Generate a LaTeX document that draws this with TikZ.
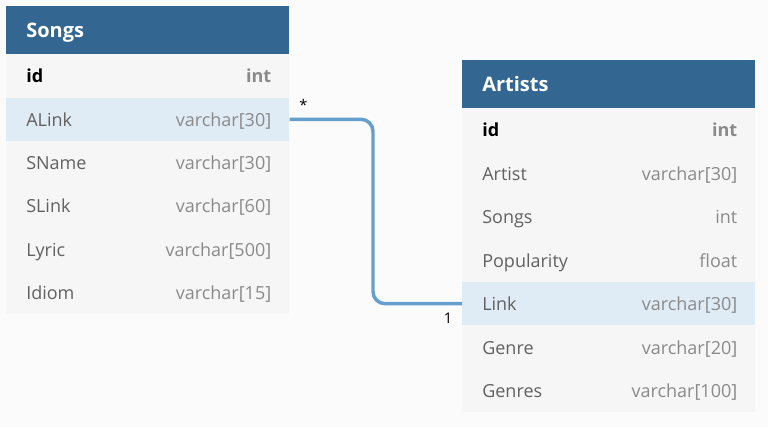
\documentclass[tikz,border=0pt]{standalone}
\usepackage{fontspec}
\setmainfont{Open Sans}
\usetikzlibrary{positioning}

\definecolor{canvas}{HTML}{FBFBFB}
\definecolor{headblue}{HTML}{336791}
\definecolor{rowgray}{HTML}{F6F6F6}
\definecolor{rowlink}{HTML}{DFEBF5}
\definecolor{linkblue}{HTML}{659FCE}
\definecolor{fieldgray}{HTML}{616161}
\definecolor{typegray}{HTML}{8A8A8A}

\tikzset{
  tablehead/.style={fill=headblue, minimum height=36pt, inner sep=0pt, anchor=north west},
  headtext/.style={text=white, font=\fontsize{15}{18}\selectfont\bfseries, inner sep=0pt, anchor=base west},
  tablerow/.style={minimum height=32.55pt, inner sep=0pt, anchor=north west},
  plainrow/.style={tablerow, fill=rowgray},
  linkrow/.style={tablerow, fill=rowlink},
  fieldtext/.style={text=fieldgray, font=\fontsize{13.5}{16}\selectfont, inner sep=0pt, anchor=base west},
  typetext/.style={text=typegray, font=\fontsize{13.5}{16}\selectfont, inner sep=0pt, anchor=base east},
  keyfield/.style={fieldtext, text=black, font=\fontsize{13.5}{16}\selectfont\bfseries},
  keytype/.style={typetext, font=\fontsize{13.5}{16}\selectfont\bfseries},
  reltext/.style={text=black, font=\fontsize{11}{13}\selectfont, inner sep=0pt},
  relation/.style={draw=linkblue, line width=2.6pt, rounded corners=9pt}
}

\begin{document}
\begin{tikzpicture}[x=0.75pt,y=-0.75pt]
  \fill[canvas] (0,0) rectangle (768,427);

  % Songs table
  \node[tablehead, minimum width=212.25pt] (songs) at (6,6) {};
  \node[headtext] (songs-title) at ([shift={(20,7.5)}]songs.west) {Songs};
  \node[plainrow, minimum width=212.25pt] (songs-id) at (6,54) {};
  \node[keyfield] (songs-id-f) at ([shift={(20,7)}]songs-id.west) {id};
  \node[keytype] (songs-id-t) at ([shift={(-18,7)}]songs-id.east) {int};
  \foreach \rowname/\field/\type/\kind [count=\i] in {
      alink/ALink/varchar[30]/linkrow,
      sname/SName/varchar[30]/plainrow,
      slink/SLink/varchar[60]/plainrow,
      lyric/Lyric/varchar[500]/plainrow,
      idiom/Idiom/varchar[15]/plainrow}{
    \node[\kind, minimum width=212.25pt] (songs-\rowname) at (6,{54+43.33*\i}) {};
    \node[fieldtext] (songs-\rowname-f) at ([shift={(20,7)}]songs-\rowname.west) {\field};
    \node[typetext] (songs-\rowname-t) at ([shift={(-18,7)}]songs-\rowname.east) {\type};
  }

  % Artists table
  \node[tablehead, minimum width=219.75pt] (artists) at (462,60) {};
  \node[headtext] (artists-title) at ([shift={(20,7)}]artists.west) {Artists};
  \node[plainrow, minimum width=219.75pt] (artists-id) at (462,108) {};
  \node[keyfield] (artists-id-f) at ([shift={(20,7)}]artists-id.west) {id};
  \node[keytype] (artists-id-t) at ([shift={(-18,7)}]artists-id.east) {int};
  \foreach \rowname/\field/\type/\kind [count=\i] in {
      artist/Artist/varchar[30]/plainrow,
      songs/Songs/int/plainrow,
      popularity/Popularity/float/plainrow,
      link/Link/varchar[30]/linkrow,
      genre/Genre/varchar[20]/plainrow,
      genres/Genres/varchar[100]/plainrow}{
    \node[\kind, minimum width=219.75pt] (artists-\rowname) at (462,{108+43.43*\i}) {};
    \node[fieldtext] (artists-\rowname-f) at ([shift={(20,7)}]artists-\rowname.west) {\field};
    \node[typetext] (artists-\rowname-t) at ([shift={(-18,7)}]artists-\rowname.east) {\type};
  }

  % relation
  \coordinate (elbow) at (373,210);
  \draw[relation] (songs-alink.east) -| (elbow) |- (artists-link.west);
  \node[reltext] (many) at ([shift={(14,-14)}]songs-alink.east) {*};
  \node[reltext] (one) at ([shift={(-14,15)}]artists-link.west) {1};
\end{tikzpicture}
\end{document}
